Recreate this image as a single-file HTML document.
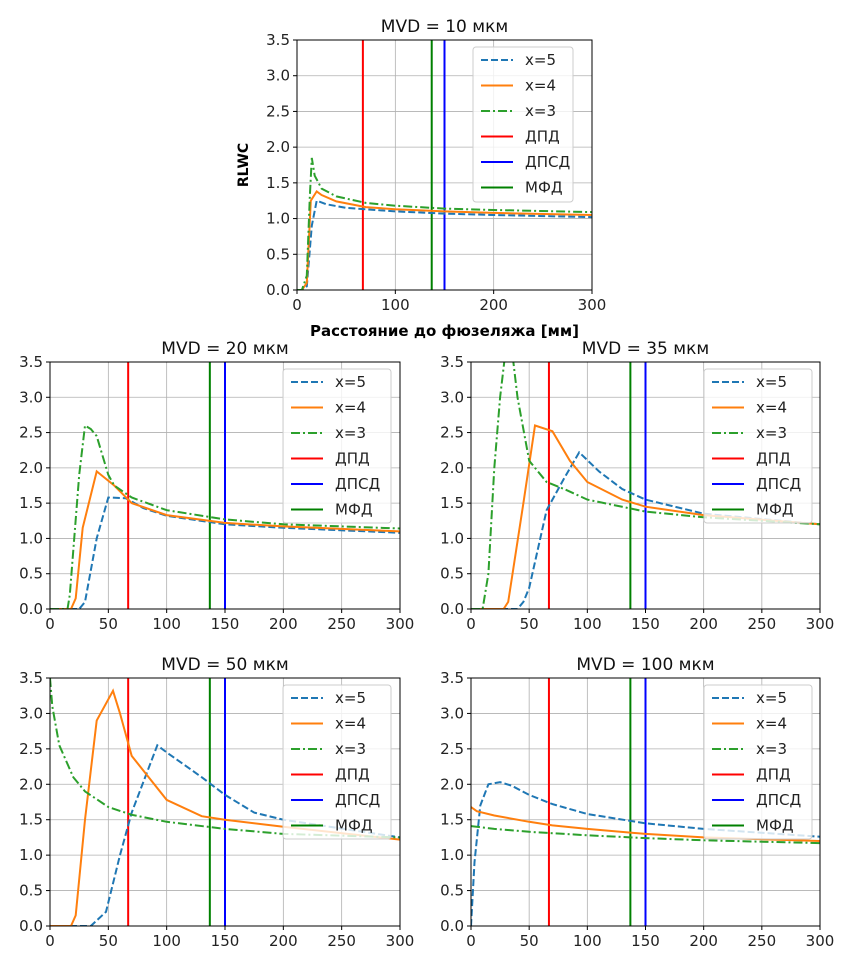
<!DOCTYPE html>
<html><head><meta charset="utf-8"><style>
body{margin:0;background:#fff;width:847px;height:966px;overflow:hidden}
svg{font-family:"DejaVu Sans","Liberation Sans",sans-serif}
</style></head><body>
<svg id="fig" width="847" height="966" viewBox="0 0 847 966"></svg>
<script>
const xTicksTop=[0,100,200,300];
const xTicksSmall=[0,50,100,150,200,250,300];
const yTicks=[0,0.5,1,1.5,2,2.5,3,3.5];
const vlineNames=["ДПД","ДПСД","МФД"];
const vlineX=[67,150,137];
const seriesNames=["x=5","x=4","x=3"];
const titles=["MVD = 10 мкм","MVD = 20 мкм","MVD = 35 мкм","MVD = 50 мкм","MVD = 100 мкм"];
// MVD 10
const m10x5=[[0,0],[5,0],[10,0.05],[15,0.9],[20,1.25],[30,1.2],[50,1.15],[100,1.1],[150,1.07],[200,1.05],[300,1.02]];
const m10x4=[[0,0],[5,0],[10,0.1],[14,1.25],[20,1.38],[25,1.33],[40,1.24],[70,1.16],[100,1.13],[150,1.1],[200,1.08],[300,1.05]];
const m10x3=[[0,0],[5,0],[10,0.2],[13,1.3],[15,1.85],[18,1.6],[25,1.42],[40,1.31],[70,1.22],[100,1.18],[150,1.14],[200,1.12],[300,1.09]];
// MVD 20
const m20x5=[[0,0],[25,0],[30,0.1],[40,1.0],[50,1.58],[65,1.57],[80,1.43],[100,1.32],[150,1.2],[200,1.15],[300,1.08]];
const m20x4=[[0,0],[18,0],[22,0.15],[28,1.15],[40,1.95],[55,1.75],[70,1.5],[100,1.33],[150,1.22],[200,1.17],[300,1.1]];
const m20x3=[[0,0],[15,0],[17,0.2],[25,1.9],[30,2.6],[35,2.55],[40,2.45],[50,1.9],[55,1.75],[70,1.58],[100,1.4],[150,1.27],[200,1.2],[300,1.14]];
// MVD 35
const m35x5=[[0,0],[40,0],[45,0.1],[50,0.3],[65,1.4],[80,1.85],[93,2.22],[110,1.95],[130,1.7],[150,1.55],[200,1.35],[300,1.2]];
const m35x4=[[0,0],[28,0],[32,0.1],[45,1.5],[55,2.6],[70,2.52],[85,2.1],[100,1.8],[130,1.55],[150,1.45],[200,1.33],[300,1.2]];
const m35x3=[[0,0],[10,0],[15,0.5],[20,2.0],[25,3.0],[30,3.7],[35,3.7],[40,3.0],[50,2.1],[65,1.8],[80,1.7],[100,1.55],[150,1.38],[200,1.3],[300,1.2]];
// MVD 50
const m50x5=[[0,0],[35,0],[48,0.2],[60,1.0],[70,1.6],[92,2.55],[100,2.45],[130,2.1],[150,1.85],[175,1.6],[200,1.5],[300,1.25]];
const m50x4=[[0,0],[18,0],[22,0.15],[30,1.5],[40,2.9],[54,3.32],[60,3.0],[70,2.4],[100,1.78],[130,1.55],[150,1.5],[200,1.4],[300,1.22]];
const m50x3=[[0,3.5],[2,3.1],[8,2.55],[20,2.1],[30,1.9],[50,1.68],[70,1.57],[100,1.47],[150,1.37],[200,1.3],[300,1.25]];
// MVD 100
const m100x5=[[0,0],[3,0.9],[8,1.7],[15,2.0],[25,2.03],[35,1.98],[50,1.85],[70,1.72],[100,1.58],[150,1.45],[200,1.37],[300,1.26]];
const m100x4=[[0,1.68],[5,1.62],[20,1.56],[50,1.47],[70,1.42],[100,1.37],[150,1.3],[200,1.25],[300,1.2]];
const m100x3=[[0,1.41],[20,1.37],[50,1.33],[100,1.28],[150,1.24],[200,1.21],[300,1.17]];

const NS="http://www.w3.org/2000/svg";
const fig=document.getElementById('fig');
function mk(tag,attrs,parent){const e=document.createElementNS(NS,tag);for(const k in attrs)e.setAttribute(k,attrs[k]);(parent||fig).appendChild(e);return e;}
const panels=[
 {t:0,l:297,r:592,top:40,b:290,xt:xTicksTop,d:[m10x5,m10x4,m10x3],lg:[473,47,100,155],main:true},
 {t:1,l:50,r:400,top:362,b:609,xt:xTicksSmall,d:[m20x5,m20x4,m20x3],lg:[283,369,108,154]},
 {t:2,l:471,r:820,top:362,b:609,xt:xTicksSmall,d:[m35x5,m35x4,m35x3],lg:[704,369,108,154]},
 {t:3,l:50,r:400,top:678,b:926,xt:xTicksSmall,d:[m50x5,m50x4,m50x3],lg:[283,685,108,154]},
 {t:4,l:471,r:820,top:678,b:926,xt:xTicksSmall,d:[m100x5,m100x4,m100x3],lg:[704,685,108,154]}
];
const sStyle=[{c:"#1f77b4",da:"7,3"},{c:"#ff7f0e",da:""},{c:"#2ca02c",da:"9,3,2,3"}];
const vColors=["#ff0000","#0000ff","#008000"];
panels.forEach((p,i)=>{
 const g=mk('g',{});
 
 
 const sx=v=>p.l+(v/300)*(p.r-p.l);
 const sy=v=>p.b-(v/3.5)*(p.b-p.top);
 const cid='clip'+i;
 const cp=mk('clipPath',{id:cid},g);mk('rect',{x:p.l,y:p.top,width:p.r-p.l,height:p.b-p.top},cp);
 // grid
 p.xt.forEach(v=>{const l=mk('line',{x1:sx(v),x2:sx(v),y1:p.top,y2:p.b,stroke:'#b0b0b0','stroke-width':0.8},g);
  const t=mk('text',{x:sx(v),y:p.b+20,'text-anchor':'middle','font-size':15,fill:'#222'},g);t.textContent=v;
  mk('line',{x1:sx(v),x2:sx(v),y1:p.b,y2:p.b+4,stroke:'#000'},g);});
 yTicks.forEach(v=>{const l=mk('line',{x1:p.l,x2:p.r,y1:sy(v),y2:sy(v),stroke:'#b0b0b0','stroke-width':0.8},g);
  const t=mk('text',{x:p.l-7,y:sy(v)+5,'text-anchor':'end','font-size':15,fill:'#222'},g);t.textContent=v.toFixed(1);
  mk('line',{x1:p.l-4,x2:p.l,y1:sy(v),y2:sy(v),stroke:'#000'},g);});
 const cg=mk('g',{'clip-path':'url(#'+cid+')'},g);
 vlineX.forEach((v,k)=>{const l=mk('line',{x1:sx(v),x2:sx(v),y1:p.top,y2:p.b,stroke:vColors[k],'stroke-width':2},cg);});
 p.d.forEach((arr,k)=>{const pts=arr.map(q=>sx(q[0]).toFixed(1)+','+sy(q[1]).toFixed(1)).join(' ');
  const pl=mk('polyline',{points:pts,fill:'none',stroke:sStyle[k].c,'stroke-width':2,'stroke-dasharray':sStyle[k].da},cg);
  });
 mk('rect',{x:p.l,y:p.top,width:p.r-p.l,height:p.b-p.top,fill:'none',stroke:'#000','stroke-width':1},g);
 const tt=mk('text',{x:(p.l+p.r)/2,y:p.top-8,'text-anchor':'middle','font-size':17,fill:'#111'},g);tt.textContent=titles[p.t];
 
 // legend
 const [lx,ly,lw,lh]=p.lg;
 const lgG=mk('g',{},g);
 mk('rect',{x:lx,y:ly,width:lw,height:lh,rx:3,fill:'#fff','fill-opacity':0.8,stroke:'#ccc'},lgG);
 const items=[[sStyle[0].c,sStyle[0].da,seriesNames[0]],[sStyle[1].c,'',seriesNames[1]],[sStyle[2].c,sStyle[2].da,seriesNames[2]],[vColors[0],'',vlineNames[0]],[vColors[1],'',vlineNames[1]],[vColors[2],'',vlineNames[2]]];
 items.forEach((it,k)=>{const y=ly+13+k*25.5;
  mk('line',{x1:lx+8,x2:lx+40,y1:y,y2:y,stroke:it[0],'stroke-width':2,'stroke-dasharray':it[1]},lgG);
  const t=mk('text',{x:lx+52,y:y+5,'font-size':15,fill:'#222'},lgG);t.textContent=it[2];
  });
 if(p.main){
  const yl=mk('text',{x:0,y:0,transform:'translate(248,'+((p.top+p.b)/2)+') rotate(-90)','text-anchor':'middle','font-size':14,'font-weight':'bold'},g);yl.textContent='RLWC';
  
  const xl=mk('text',{x:(p.l+p.r)/2,y:336,'text-anchor':'middle','font-size':15,'font-weight':'bold'},g);xl.textContent='Расстояние до фюзеляжа [мм]';
  
 }
});
</script>
</body></html>
